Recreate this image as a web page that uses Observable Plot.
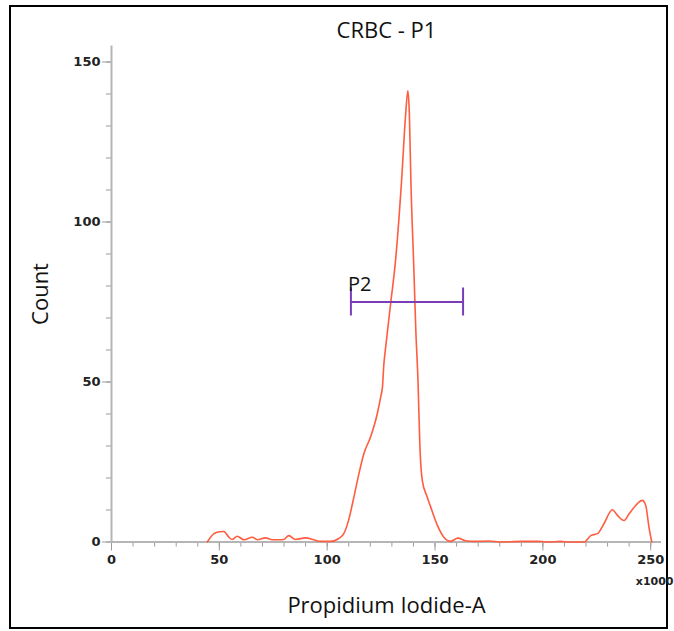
<!DOCTYPE html>
<html><head><meta charset="utf-8">
<script src="https://cdn.jsdelivr.net/npm/d3@7"></script>
<script src="https://cdn.jsdelivr.net/npm/@observablehq/plot@0.6"></script>
<style>
body{margin:0;background:#fff;}
#wrap{position:relative;width:674px;height:631px;}
#border{position:absolute;left:9px;top:5px;width:659px;height:624px;border:2px solid #000;box-sizing:border-box;pointer-events:none;}
#wrap svg{position:absolute;left:0;top:0;}
</style></head><body><div id="wrap"><div id="border"></div></div>
<script>
// Histogram trace: Propidium Iodide-A (x1000) vs Count
const piA = [44.4,47.5,50,52.1,54.4,56.0,58.3,61.4,65.3,67.6,71.4,74.5,77.6,79.9,82.2,85.3,90.0,93.8,96.9,101.6,105.4,107.7,110,112.4,114.7,117.0,120.1,123.2,124.8,125.6,126.3,127.1,129.4,131.7,134.5,136.4,137.4,138.1,138.8,140.2,141.1,142.1,143.0,144.1,146.4,148.0,151.1,154.1,157.2,160.6,164.2,168.1,175,180,190,198,203,208,212,219.1,222.2,225.3,228.3,232.2,234.6,237.6,240.0,243.0,246.1,247.7,249.2,250.5];
const counts = [0,2.6,3.2,3.3,1.5,0.8,1.8,0.7,1.5,0.7,1.3,0.7,0.7,0.8,2.0,0.8,1.3,0.7,0.2,0.2,1.1,2.6,7,14.1,21.3,27.6,32.8,40.0,45.3,48.3,55.7,60.8,74.4,88,113,133.8,141,133.8,113,85,66,50.5,29.6,19.2,14,10.9,5.2,1.5,0.2,1.2,0.4,0.2,0.3,0,0.2,0.2,0,0.2,0,0,2.0,2.6,5.7,10.1,8.3,6.7,8.8,11.4,13.0,11.4,4.6,0];

const xMajorTicks = [0,50,100,150,200,250];
const xMinorTicks = [0,10,20,30,40,50,60,70,80,90,100,110,120,130,140,150,160,170,180,190,200,210,220,230,240,250];
const yMajorTicks = [0,50,100,150];
const yMinorTicks = [0,10,20,30,40,50,60,70,80,90,100,110,120,130,140,150];

const titleText = ["CRBC - P1"];
const xLabel = ["Propidium Iodide-A"];
const yLabel = ["Count"];
const xUnit = ["x1000"];

const gateNames = ["P2"];
const gateStarts = [111];
const gateEnds = [163];
const gateLevels = [75];

const data = piA.map((x, i) => ({x, y: counts[i]}));
const gates = gateNames.map((name, i) => ({name, x1: gateStarts[i], x2: gateEnds[i], y: gateLevels[i]}));
const gateCaps = gates.flatMap(g => [{x: g.x1, y: g.y}, {x: g.x2, y: g.y}]);

const tickColor = "#9a9a9a";
const textFont = "Open Sans";

const plot = Plot.plot({
  width: 674, height: 631,
  marginLeft: 111, marginRight: 13, marginTop: 45.5, marginBottom: 89.5,
  x: {domain: [0, 255], axis: null},
  y: {domain: [0, 155], axis: null},
  style: {background: "transparent", fontFamily: "DejaVu Sans", fontSize: "13px", color: "#1a1a1a"},
  marks: [
    Plot.axisY(yMinorTicks, {tickSize: 5, tickFormat: () => "", stroke: tickColor, label: null}),
    Plot.axisY(yMajorTicks, {tickSize: 9, tickPadding: 2, stroke: tickColor, fill: "#222", label: null, fontSize: 13, fontWeight: "bold"}),
    Plot.axisX(xMinorTicks, {tickSize: 5, tickFormat: () => "", stroke: tickColor, label: null}),
    Plot.axisX(xMajorTicks, {tickSize: 9, tickPadding: 4, stroke: tickColor, fill: "#222", label: null, fontSize: 13, fontWeight: "bold"}),
    Plot.ruleX([0], {stroke: "#b5b5b5", strokeWidth: 2}),
    Plot.ruleY([0], {stroke: "#b5b5b5", strokeWidth: 2}),
    Plot.line(data, {x: "x", y: "y", stroke: "#ff5c40", strokeWidth: 1.6, curve: "monotone-x"}),
    Plot.ruleY(gates, {x1: "x1", x2: "x2", y: "y", stroke: "#7a3db8", strokeWidth: 2}),
    Plot.ruleX(gateCaps, {x: "x", y1: "y", y2: "y", insetTop: -14, insetBottom: -14, stroke: "#7a3db8", strokeWidth: 2}),
    Plot.text(gates, {x: "x1", y: "y", text: "name", textAnchor: "start", dx: -3, dy: -17, fontSize: 20, fontFamily: textFont, fill: "#111"}),
    Plot.text(titleText, {frameAnchor: "top", textAnchor: "middle", lineAnchor: "middle", dy: -15.5, fontSize: 22, fontFamily: textFont, fill: "#111"}),
    Plot.text(xLabel, {frameAnchor: "bottom", textAnchor: "middle", lineAnchor: "middle", dy: 64, fontSize: 22, fontFamily: textFont, fill: "#111"}),
    Plot.text(yLabel, {frameAnchor: "left", textAnchor: "middle", lineAnchor: "middle", dx: -71, rotate: -90, fontSize: 22, fontFamily: textFont, fill: "#111"}),
    Plot.text(xUnit, {frameAnchor: "bottom-right", textAnchor: "end", lineAnchor: "middle", dx: 12, dy: 39, fontSize: 11, fontWeight: "bold", fontFamily: "DejaVu Sans", fill: "#222"})
  ]
});
document.getElementById("wrap").appendChild(plot);
</script>
</body></html>
